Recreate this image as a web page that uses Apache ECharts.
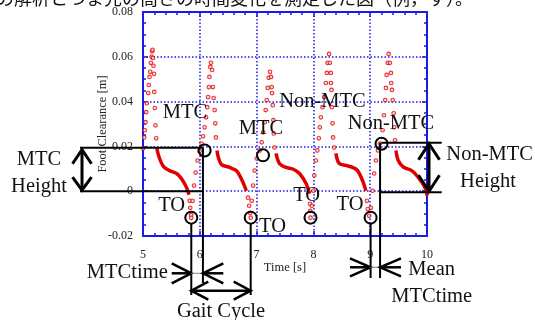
<!DOCTYPE html>
<html><head><meta charset="utf-8">
<script src="https://cdn.jsdelivr.net/npm/echarts@6.0.0/dist/echarts.min.js"></script>
<style>html,body{margin:0;padding:0;background:#fff}#c{width:535px;height:320px}</style>
</head><body><div id="c"></div>
<script>
// ---- data ----
const xTickLabels = ['5', '6', '7', '8', '9', '10'];
const yTickLabels = ['-0.02', '0', '0.02', '0.04', '0.06', '0.08'];

// sparse (swing-phase) samples, drawn as dots
const swingT = [
  5.000, 5.021, 5.032, 5.044, 5.056, 5.067, 5.092, 5.102, 5.115, 5.127, 5.138, 5.150, 5.162, 5.168,
  5.176, 5.185, 5.194, 5.198, 5.208, 5.220, 5.233,
  5.820, 5.832, 5.847, 5.850,
  5.873, 5.899, 5.926, 5.961, 5.996, 6.032, 6.058, 6.085, 6.111, 6.132, 6.146, 6.159, 6.169, 6.185, 6.196,
  6.217, 6.231, 6.243, 6.261, 6.273, 6.284,
  6.848, 6.869, 6.887, 6.896,
  6.914, 6.940, 6.966, 7.002, 7.055, 7.090, 7.116, 7.143, 7.160, 7.178, 7.196, 7.213, 7.236,
  7.254, 7.266, 7.272, 7.284, 7.296, 7.302, 7.314,
  7.940, 7.947, 7.949,
  7.972, 7.998, 8.016, 8.042, 8.069, 8.095, 8.113, 8.131, 8.160, 8.189, 8.219, 8.236, 8.249, 8.277,
  8.289, 8.307, 8.309, 8.319, 8.324, 8.337, 8.347, 8.365,
  8.942, 8.959, 8.982,
  9.012, 9.042, 9.070, 9.101, 9.136, 9.171, 9.219, 9.242, 9.265, 9.277, 9.289, 9.307, 9.325,
  9.347, 9.365, 9.370, 9.383, 9.395, 9.413, 9.423, 9.436,
  10.018
];
const swingV = [
  0.0191, 0.0240, 0.0272, 0.0308, 0.0353, 0.0393, 0.0438, 0.0474, 0.0510, 0.0533, 0.0573, 0.0600, 0.0624, 0.0631,
  0.0595, 0.0560, 0.0524, 0.0443, 0.0371, 0.0294, 0.0236,
  -0.0043, -0.0074, -0.0106, -0.0119,
  -0.0043, 0.0025, 0.0083, 0.0137, 0.0178, 0.0213, 0.0245, 0.0285, 0.0330, 0.0375, 0.0420, 0.0465, 0.0510, 0.0555, 0.0573,
  0.0541, 0.0465, 0.0416, 0.0362, 0.0303, 0.0240,
  -0.0029, -0.0065, -0.0097, -0.0118,
  -0.0043, 0.0025, 0.0092, 0.0146, 0.0182, 0.0218, 0.0263, 0.0308, 0.0362, 0.0407, 0.0461, 0.0506, 0.0533,
  0.0510, 0.0465, 0.0438, 0.0384, 0.0317, 0.0258, 0.0195,
  -0.0056, -0.0088, -0.0118,
  -0.0065, 0.0002, 0.0070, 0.0137, 0.0182, 0.0236, 0.0285, 0.0330, 0.0375, 0.0420, 0.0483, 0.0528, 0.0573, 0.0613,
  0.0573, 0.0528, 0.0483, 0.0452, 0.0375, 0.0303, 0.0240, 0.0195,
  -0.0043, -0.0080, -0.0110,
  -0.0074, 0.0002, 0.0079, 0.0137, 0.0182, 0.0213, 0.0272, 0.0339, 0.0407, 0.0461, 0.0519, 0.0573, 0.0613,
  0.0573, 0.0528, 0.0483, 0.0452, 0.0407, 0.0348, 0.0285, 0.0227,
  -0.0043
];

// dense (stance-phase) samples, one list per cycle
const stanceT = [
  [5.243, 5.291, 5.362, 5.467, 5.591, 5.679, 5.767, 5.811],
  [6.302, 6.332, 6.384, 6.526, 6.644, 6.702, 6.760, 6.820],
  [7.342, 7.402, 7.519, 7.637, 7.755, 7.871, 7.931],
  [8.395, 8.453, 8.571, 8.690, 8.778, 8.866, 8.924],
  [9.453, 9.494, 9.582, 9.730, 9.847, 9.965, 10.005]
];
const stanceV = [
  [0.0191, 0.0146, 0.0110, 0.0092, 0.0079, 0.0056, 0.0016, -0.0016],
  [0.0182, 0.0146, 0.0119, 0.0106, 0.0092, 0.0070, 0.0040, 0.0002],
  [0.0169, 0.0124, 0.0106, 0.0099, 0.0079, 0.0034, -0.0011],
  [0.0169, 0.0124, 0.0115, 0.0106, 0.0092, 0.0047, 0.0002],
  [0.0182, 0.0137, 0.0108, 0.0092, 0.0061, 0.0016, -0.0020]
];

// gait events
const toTimes = [5.850, 6.896, 7.949, 9.007];
const toValue = -0.0118;
const mtcTimes = [6.085, 7.113];
const mtcValues = [0.0182, 0.0160];
const nonMtcTime = 9.200;
const nonMtcValue = 0.0212;

// ---- chart ----
const SERIF = '"Liberation Serif", "Times New Roman", serif';
const BLUE = '#1a1ae8';
const RED = '#e00000';
const chart = echarts.init(document.getElementById('c'), null, { renderer: 'canvas' });

function xAxisDef(pos, main) {
  return {
    type: 'value', min: 5, max: 10, interval: 1, position: pos,
    axisLine: { show: true, onZero: false, lineStyle: { color: BLUE, width: 2 } },
    axisTick: { show: true, inside: true, length: 5, lineStyle: { color: BLUE, width: 1.5 } },
    minorTick: { show: true, splitNumber: 5, length: 3, lineStyle: { color: BLUE, width: 1.5 } },
    splitLine: { show: main, lineStyle: { color: BLUE, width: 1.5, type: [1.5, 2] } },
    minorSplitLine: { show: false },
    axisLabel: main ? { show: true, color: '#222', fontFamily: SERIF, fontSize: 12, margin: 13,
      formatter: (v) => xTickLabels[Math.round(v - 5)] } : { show: false },
    name: main ? 'Time [s]' : '', nameLocation: 'middle', nameGap: 25, nameMoveOverlap: false,
    nameTextStyle: { color: '#222', fontFamily: SERIF, fontSize: 12.5 }
  };
}
function yAxisDef(pos, main) {
  return {
    type: 'value', min: -0.02, max: 0.08, interval: 0.02, position: pos,
    axisLine: { show: true, onZero: false, lineStyle: { color: BLUE, width: 2 } },
    axisTick: { show: true, inside: true, length: 5, lineStyle: { color: BLUE, width: 1.5 } },
    minorTick: { show: true, splitNumber: 4, length: 3, lineStyle: { color: BLUE, width: 1.5 } },
    splitLine: { show: main, lineStyle: { color: BLUE, width: 1.5, type: [1.5, 2] } },
    axisLabel: main ? { show: true, color: '#222', fontFamily: SERIF, fontSize: 12, margin: 10,
      formatter: (v) => yTickLabels[Math.round((v + 0.02) / 0.02)] } : { show: false },
    name: main ? 'Foot Clearance [m]' : '', nameLocation: 'middle', nameGap: 34, nameRotate: 90,
    nameMoveOverlap: false,
    nameTextStyle: { color: '#222', fontFamily: SERIF, fontSize: 12.5 }
  };
}

const series = [{
  type: 'scatter', xAxisIndex: 0, yAxisIndex: 0,
  data: swingT.map((t, i) => [t, swingV[i]]),
  symbol: 'circle', symbolSize: 3.6,
  itemStyle: { color: '#ffd0d0', borderColor: RED, borderWidth: 1.1 },
  z: 3
}];
stanceT.forEach((ts, k) => {
  series.push({
    type: 'line', xAxisIndex: 0, yAxisIndex: 0,
    data: ts.map((t, i) => [t, stanceV[k][i]]),
    showSymbol: false, smooth: 0.3,
    lineStyle: { color: RED, width: 3.5 }, z: 2
  });
});

chart.setOption({
  animation: false,
  backgroundColor: '#fff',
  grid: { left: 143, top: 12, width: 284, height: 224, containLabel: false },
  xAxis: [xAxisDef('bottom', true), xAxisDef('top', false)],
  yAxis: [yAxisDef('left', true), yAxisDef('right', false)],
  series: series
});

// ---- annotations ----
const px = (t, v) => chart.convertToPixel({ xAxisIndex: 0, yAxisIndex: 0 }, [t, v]);
const K = '#000';
const g = [];
function pl(points, w, color) {
  g.push({ type: 'polyline', shape: { points: points }, style: { stroke: color || K, lineWidth: w || 2, fill: null }, z: 100 });
}
function circ(p) {
  g.push({ type: 'circle', shape: { cx: p[0], cy: p[1], r: 6 }, style: { stroke: K, lineWidth: 2, fill: null }, z: 101 });
}
function txt(s, x, y, size, align) {
  g.push({ type: 'text', x: x, y: y, z: 102,
    style: { text: s, font: (size || 20.5) + 'px ' + SERIF, fill: '#111',
      align: align || 'center', textAlign: align || 'center', verticalAlign: 'middle', textVerticalAlign: 'middle' } });
}

const toP = toTimes.map(t => px(t, toValue));
const mtcP = mtcTimes.map((t, i) => px(t, mtcValues[i]));
const nmP = px(nonMtcTime, nonMtcValue);
const y0 = px(5, 0)[1];

toP.forEach(circ);
mtcP.forEach(circ);
circ(nmP);

// MTC height (left)
const vx1 = mtcP[0][0] - 1.7;
const yTop1 = mtcP[0][1] - 2.7;
pl([[80, yTop1], [vx1, yTop1]], 2);
pl([[80, y0], [vx1, y0]], 2);
pl([[vx1, yTop1], [vx1, 283]], 2);
pl([[toP[0][0], toP[0][1] + 6], [toP[0][0], 295]], 2);
pl([[toP[1][0], toP[1][1] + 6], [toP[1][0], 295]], 2);
pl([[82, yTop1 + 2], [82, y0 - 1]], 3);
pl([[72.5, yTop1 + 16], [82, yTop1 + 2], [91.5, yTop1 + 16]], 3);
pl([[72.5, y0 - 14], [82, y0 - 1], [91.5, y0 - 14]], 3);
txt('MTC', 39, 160);
txt('Height', 39, 186.7);

// MTCtime arrows
const yA = 273.3;
pl([[171.7, yA], [toP[0][0], yA]], 2.5);
pl([[171.7, yA - 10], [toP[0][0], yA], [171.7, yA + 10]], 2.5);
pl([[toP[0][0], yA], [vx1, yA]], 1, '#888');
pl([[vx1, yA], [223.3, yA]], 2.5);
pl([[223.3, yA - 10], [vx1, yA], [223.3, yA + 10]], 2.5);
txt('MTCtime', 127.3, 273);

// Gait cycle arrow
const yG = 290.7;
pl([[toP[0][0], yG], [toP[1][0], yG]], 2.5);
pl([[toP[0][0] + 17, yG - 9], [toP[0][0], yG], [toP[0][0] + 17, yG + 9]], 2.5);
pl([[toP[1][0] - 17, yG - 9], [toP[1][0], yG], [toP[1][0] - 17, yG + 9]], 2.5);
txt('Gait Cycle', 221, 311.7);

// Non-MTC height (right)
const vx4 = nmP[0] - 1.5;
const yTop4 = nmP[1] - 1;
pl([[nmP[0], yTop4], [441.7, yTop4]], 2);
pl([[vx4, y0 + 1], [441.7, y0 + 1]], 2);
pl([[vx4, yTop4], [vx4, 278]], 2);
pl([[toP[3][0], toP[3][1] + 6], [toP[3][0], 278]], 2);
pl([[429, yTop4 + 1], [429, y0]], 3);
pl([[418.5, yTop4 + 17], [429, yTop4 + 1], [439.5, yTop4 + 17]], 3);
pl([[418.5, y0 - 16], [429, y0], [439.5, y0 - 16]], 3);
txt('Non-MTC', 489.6, 155);
txt('Height', 488, 181.7);

// Mean MTCtime arrows
const yM = 267.3;
pl([[350, yM], [toP[3][0], yM]], 2.5);
pl([[350, yM - 9], [toP[3][0], yM], [350, yM + 9]], 2.5);
pl([[toP[3][0], yM], [vx4, yM]], 1, '#888');
pl([[vx4, yM], [401, yM]], 2.5);
pl([[401, yM - 9], [vx4, yM], [401, yM + 9]], 2.5);
txt('Mean', 408.3, 270, 20.5, 'left');
txt('MTCtime', 431.7, 296.7);

// labels inside the plot
txt('MTC', 185, 113);
txt('MTC', 261, 129);
txt('Non-MTC', 322.5, 101.7);
txt('Non-MTC', 391, 124);
txt('TO', 171.7, 206);
txt('TO', 272.5, 226.7);
txt('TO', 306.7, 196);
txt('TO', 350, 205);

// cut-off caption line at the very top of the page
g.push({ type: 'text', x: -4, y: -2, z: 102,
  style: { text: 'の解析とつま先の高さの時間変化を測定した図（例，す）。', font: '18px "Noto Sans CJK JP"', fill: '#111',
    align: 'left', textAlign: 'left', verticalAlign: 'middle', textVerticalAlign: 'middle' } });

chart.setOption({ graphic: { elements: g } });
</script>
</body></html>
